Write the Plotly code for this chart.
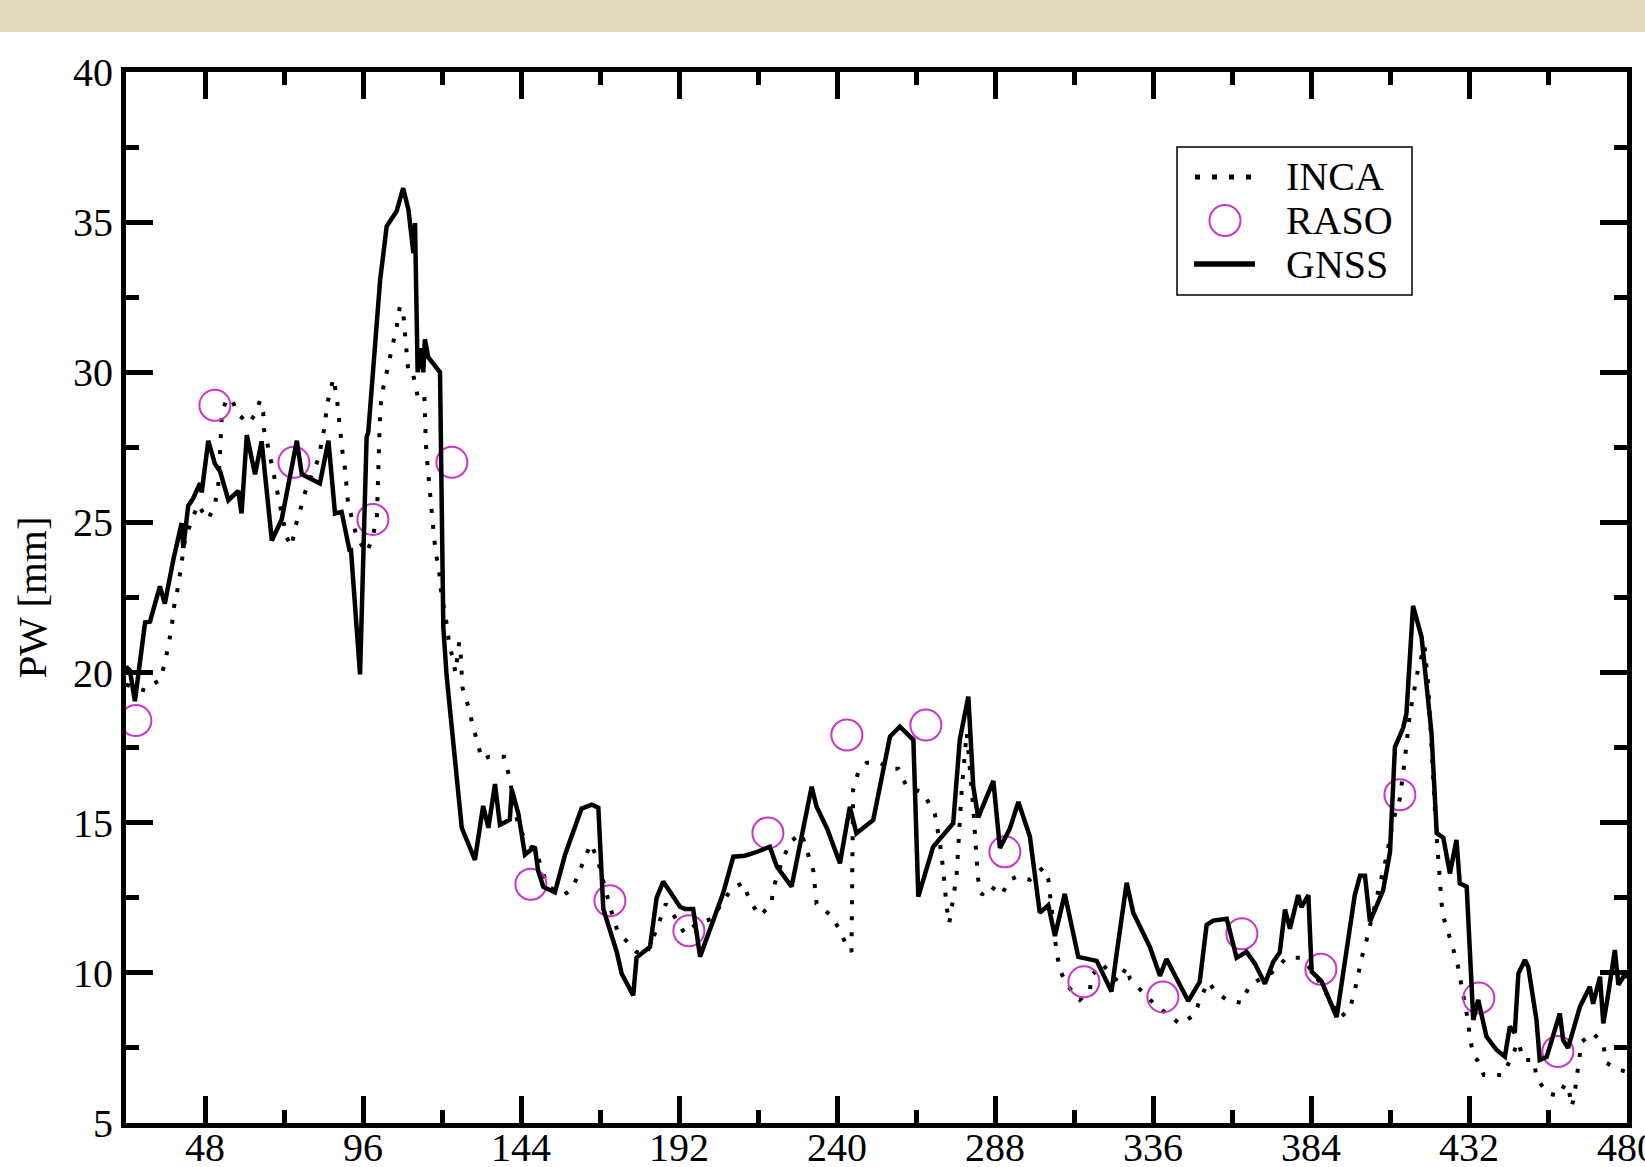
import plotly.graph_objects as go

# ---------------- data ----------------
inca_x = [24, 26.5, 29.8, 32, 34.3, 35.8, 36.9, 37.9, 38.4, 39.4, 40.4, 41.0, 41.9, 44.0, 46.0, 47.5, 49.0,
          51.0, 52.0, 52.6, 52.8, 53.1, 54.5, 56.1, 58.1, 60.0, 61.2, 63.2, 64.7, 65.7, 65.9, 67.2, 68.3,
          69.3, 70.3, 72.8, 74.3, 75.3, 76.9, 78.4, 80.5, 82.4, 83.5, 84.5, 85.0, 87.0, 88.0, 88.5, 89.0,
          89.7, 90.5, 91.0, 91.5, 93.0, 94.1, 97.1, 98.6, 100.2, 100.4, 100.7, 100.9, 101.0, 101.2, 101.6,
          102.7, 103.7, 105.2, 106.2, 107.2, 108.2, 108.7, 109.3, 109.8, 111.1, 112.6, 114.6, 114.8, 115.1,
          115.6, 116.1, 116.6, 117.1, 117.6, 118.1, 119.1, 119.6, 121.6, 122.1, 123.2, 124.1, 125.2, 125.7,
          126.2, 128.2, 129.2, 130.7, 132.2, 134.3, 136.3, 138.8, 140.3, 141.5, 143.0, 144.5, 146.4, 149.0,
          152.0, 155.0, 157.1, 159.6, 162.2, 165.2, 167.2, 170.3, 171.3, 173.3, 176.4, 179.0, 182.0, 185.0,
          188.0, 190.5, 193.8, 197.0, 201.9, 205.0, 208.0, 211.5, 213.5, 216.6, 220.1, 220.6, 223.5, 226.2,
          229.2, 232.8, 233.8, 236.0, 238.4, 240.9, 242.9, 244.4, 244.5, 244.6, 244.9, 246.5, 249.0, 253.0,
          256.1, 258.6, 261.2, 266.2, 269.7, 271.3, 272.3, 273.3, 274.1, 276.3, 277.9, 279.4, 281.4, 282.4,
          282.9, 284.0, 286.5, 290.0, 292.5, 294.6, 298.6, 302.6, 304.2, 306.7, 307.7, 309.8, 313.8, 316.8,
          317.3, 320.5, 325.4, 328.0, 329.0, 332.5, 336.1, 340.6, 344.2, 348.7, 350.2, 352.8, 354.8, 358.4,
          362.9, 365.4, 369.0, 372.0, 376.6, 381.1, 384.0, 387.2, 392.8, 395.8, 397.3, 399.4, 400.9, 404.0,
          407.0, 409.0, 411.0, 412.5, 414.0, 416.5, 418.5, 419.6, 420.6, 421.6, 422.4, 422.9, 423.6, 424.1,
          426.2, 427.2, 428.7, 429.7, 430.7, 431.7, 432.3, 433.5, 434.5, 436.5, 438.8, 442.4, 447.0, 448.5,
          451.6, 452.6, 455.6, 459.2, 461.2, 462.2, 463.2, 464.0, 464.7, 465.7, 466.2, 469.7, 472.8, 473.8,
          476.9, 480.0]
inca_y = [19.6, 19.5, 19.4, 19.6, 19.75, 20.3, 20.9, 21.5, 22.1, 22.6, 23.3, 23.8, 24.4, 25.1, 25.6, 25.3, 25.1,
          25.6, 26.2, 27.4, 28.0, 28.6, 29.1, 29.1, 28.6, 28.4, 28.3, 28.6, 29.05, 28.65, 28.1, 27.5, 26.9,
          26.3, 25.7, 24.5, 24.2, 24.8, 25.4, 26.0, 26.6, 27.1, 27.7, 28.3, 28.9, 29.8, 29.2, 28.6, 28.0,
          27.4, 26.8, 26.2, 25.6, 25.0, 24.5, 24.0, 24.4, 25.1, 26.2, 26.8, 27.4, 28.0, 28.6, 29.2,
          29.75, 30.3, 31.0, 31.5, 32.2, 32.0, 31.2, 30.6, 30.0, 30.0, 29.2, 29.3, 28.7, 27.6,
          26.9, 26.4, 25.8, 25.1, 24.5, 24.0, 23.4, 22.8, 21.5, 21.0, 20.5, 20.0, 21.0, 20.6,
          19.5, 18.8, 18.3, 17.7, 17.1, 17.2, 17.2, 17.2, 16.6, 15.8, 15.0, 14.6, 14.3, 13.9,
          12.9, 12.7, 12.6, 12.8, 13.5, 14.3, 13.8, 12.5, 12.1, 11.4, 11.0, 10.7, 10.6, 11.4,
          12.3, 11.9, 11.3, 11.6, 11.8, 12.3, 12.8, 13.0, 12.4, 11.9, 12.3, 12.8, 13.8, 14.4,
          14.65, 13.4, 12.3, 12.1, 11.9, 11.4, 10.9, 10.7, 12.4, 13.8, 16.1, 16.7, 17.0, 17.0,
          16.8, 16.8, 16.2, 16.0, 15.3, 14.3, 13.4, 12.2, 11.65, 13.2, 16.1, 18.0, 15.5, 13.8,
          13.1, 12.6, 12.9, 12.6, 13.1, 13.2, 13.1, 13.5, 13.1, 10.7, 10.1, 9.6, 9.1, 9.4,
          9.9, 10.3, 9.7, 10.2, 9.8, 9.4, 9.0, 8.6, 8.3, 8.6, 9.1, 9.7, 9.4, 9.1,
          9.0, 9.6, 9.8, 10.0, 10.5, 10.5, 10.1, 9.6, 8.5, 8.8, 9.4, 10.5, 11.1, 12.5,
          13.9, 15.1, 15.8, 17.1, 18.6, 20.1, 20.9, 19.6, 17.2, 15.5, 14.2, 13.3, 12.4, 11.9,
          11.2, 10.8, 10.2, 9.6, 9.0, 8.4, 7.8, 7.2, 7.1, 6.6, 6.6, 6.6, 7.7, 7.1,
          7.1, 6.5, 6.0, 5.9, 6.3, 6.2, 5.55, 5.9, 6.5, 7.2, 7.7, 8.0, 7.6, 7.0,
          6.8, 6.7]

raso_x = [27, 51, 75, 99, 123, 147, 171, 195, 219, 243, 267, 291, 315, 339, 363, 387, 411, 435, 459]
raso_y = [18.4, 28.9, 27.0, 25.1, 27.0, 12.95, 12.4, 11.4, 14.66, 17.92, 18.25, 14.03, 9.7, 9.2, 11.3,
          10.12, 15.93, 9.16, 7.38]

gnss_x = [24, 25.2, 26.7, 29.8, 31.3, 34.3, 35.8, 38.4, 40.9, 41.4, 42.9, 44.4, 46.5, 47.0, 49.0, 51.0, 52.6,
          55.1, 58.1, 59.1, 60.7, 63.2, 65.2, 68.3, 71.3, 75.9, 77.4, 82.9, 85.5, 87.5, 89.5, 92.0, 92.3,
          95.1, 97.1, 97.6, 101.2, 103.2, 106.2, 108.2, 109.8, 111.3, 111.8, 112.6, 113.3, 114.3, 114.8,
          115.8, 117.3, 119.4, 120.4, 121.4, 126.0, 130.0, 132.5, 134.1, 136.1, 137.6, 140.6, 141.2, 143.2,
          145.2, 148.2, 149.2, 150.8, 154.3, 157.4, 160.4, 162.4, 165.5, 167.5, 169.0, 173.1, 174.6, 178.1,
          179.1, 183.2, 185.2, 187.2, 192.3, 193.8, 196.3, 198.4, 205.4, 208.5, 212.0, 215.0, 219.6, 221.7,
          226.2, 229.7, 232.3, 233.8, 237.0, 240.9, 243.9, 245.9, 251.0, 256.1, 259.1, 263.2, 264.7, 269.2,
          275.3, 277.3, 279.9, 281.4, 282.9, 287.5, 289.5, 292.5, 295.1, 298.6, 301.6, 304.2, 306.2, 309.2,
          313.3, 318.9, 323.4, 324.9, 328.0, 330.0, 335.1, 338.1, 340.1, 346.7, 350.2, 352.3, 354.3, 358.4,
          361.4, 364.4, 367.0, 370.0, 372.5, 374.5, 376.1, 377.6, 380.1, 381.1, 383.2, 384.2, 387.2, 391.8,
          395.8, 397.3, 398.9, 400.4, 401.9, 405.9, 408.0, 409.5, 412.0, 413.0, 415.0, 417.6, 420.6, 422.2,
          424.2, 426.2, 428.2, 429.2, 431.3, 432.8, 433.3, 434.8, 437.3, 440.4, 442.9, 444.4, 445.9, 447.0,
          449.0, 450.0, 452.5, 453.5, 455.6, 459.6, 460.6, 462.1, 465.7, 468.7, 469.7, 471.8, 472.8, 474.3,
          476.3, 477.4, 478.9, 480.0]
gnss_y = [20.2, 20.07, 19.05, 21.67, 21.7, 22.87, 22.3, 23.77, 24.98, 24.15, 25.55, 25.8, 26.31, 26.0, 27.72, 26.95, 26.7,
          25.74, 26.05, 25.3, 27.91, 26.6, 27.7, 24.4, 25.1, 27.72, 26.6, 26.3, 27.72, 25.3, 25.35, 24.02, 24.15,
          19.94, 27.85, 28.0, 33.07, 34.86, 35.36, 36.13, 35.42, 33.97, 34.97, 30.0, 30.8, 30.0, 31.1,
          30.5, 30.3, 30.0, 21.5, 19.9, 14.83, 13.76, 15.56, 14.83, 16.29, 14.93, 15.1, 16.1, 15.3,
          13.94, 14.2, 13.4, 12.86, 12.68, 13.94, 14.83, 15.47, 15.6, 15.5, 12.13, 10.69, 9.97, 9.25,
          10.51, 10.87, 12.5, 13.04, 12.2, 12.13, 12.13, 10.54, 12.65, 13.87, 13.9, 14.0, 14.2, 13.54,
          12.87, 14.76, 16.2, 15.53, 14.8, 13.65, 15.53, 14.65, 15.09, 17.87, 18.2, 17.76, 12.54, 14.2,
          14.98, 17.76, 19.2, 16.2, 15.18, 16.39, 14.16, 14.8, 15.69, 14.54, 12.0, 12.25, 11.23, 12.63,
          10.53, 10.4, 9.38, 10.6, 13.0, 12.0, 10.85, 9.9, 10.46, 9.06, 9.7, 11.6, 11.74, 11.8,
          10.5, 10.7, 10.3, 9.64, 10.36, 10.68, 12.11, 11.47, 12.59, 12.19, 12.59, 10.04, 9.72, 8.53,
          11.63, 12.59, 13.23, 13.23, 11.71, 12.75, 14.02, 17.52, 18.16, 18.64, 22.22, 21.18, 18.0, 14.65,
          14.5, 13.31, 14.43, 12.98, 12.87, 9.43, 8.43, 9.1, 7.88, 7.43, 7.21, 8.21, 8.0, 9.98,
          10.43, 10.2, 8.43, 7.1, 7.2, 8.65, 7.76, 7.5, 8.87, 9.54, 8.97, 9.87, 8.32, 9.3,
          10.76, 9.6, 9.87, 9.9]

x_ticks = [48, 96, 144, 192, 240, 288, 336, 384, 432, 480]
y_ticks = [5, 10, 15, 20, 25, 30, 35, 40]
legend_names = ["INCA", "RASO", "GNSS"]

FONT = "Liberation Serif"
W, H = 1645, 1167
ML, MR, MT, MB = 126, 18, 72, 44
PW_, PH_ = W - ML - MR, H - MT - MB


def px(X):
    return (X - ML) / PW_


def py(Y):
    return (H - MB - Y) / PH_


INCA_DASH = "4px,12px"
MAG = "#cc33cc"

fig = go.Figure()
fig.add_trace(go.Scatter(x=inca_x, y=inca_y, mode="lines", name=legend_names[0], showlegend=False,
                         line=dict(color="black", width=4, dash=INCA_DASH)))
fig.add_trace(go.Scatter(x=raso_x, y=raso_y, mode="markers", name=legend_names[1], showlegend=False,
                         marker=dict(symbol="circle-open", size=31, color=MAG,
                                     line=dict(width=2, color=MAG))))
fig.add_trace(go.Scatter(x=gnss_x, y=gnss_y, mode="lines", name=legend_names[2], showlegend=False,
                         line=dict(color="black", width=4.5)))

axis_common = dict(showline=True, linecolor="black", linewidth=5, mirror="allticks",
                   ticks="inside", ticklen=27, tickwidth=5, tickcolor="black",
                   showgrid=False, zeroline=False, automargin=False,
                   ticklabeloverflow="allow",
                   tickfont=dict(family=FONT, size=40, color="black"))

fig.update_xaxes(range=[24, 480], tickmode="array", tickvals=x_ticks,
                 ticktext=[str(v) for v in x_ticks], ticklabelstandoff=-15,
                 minor=dict(ticks="inside", dtick=24, tick0=0, ticklen=13, tickwidth=5,
                            tickcolor="black", showgrid=False),
                 **axis_common)
fig.update_yaxes(range=[5, 40], tickmode="array", tickvals=y_ticks,
                 ticktext=[str(v) for v in y_ticks],
                 minor=dict(ticks="inside", dtick=2.5, tick0=0, ticklen=13, tickwidth=5,
                            tickcolor="black", showgrid=False),
                 title=dict(text="PW [mm]", font=dict(family=FONT, size=41, color="black"), standoff=15),
                 **axis_common)

# legend drawn as a box with sample marks and text
rows_y = [177, 220.5, 264]
shapes = [
    dict(type="rect", xref="paper", yref="paper", x0=-0.1, x1=1.1, y0=py(32), y1=py(-20),
         fillcolor="#e2dbbe", line=dict(width=0), layer="below"),
    dict(type="rect", xref="paper", yref="paper", x0=px(1177), x1=px(1412), y0=py(295), y1=py(147),
         fillcolor="white", line=dict(color="black", width=1.5), layer="above"),
    dict(type="line", xref="paper", yref="paper", x0=px(1195), x1=px(1256), y0=py(rows_y[0]), y1=py(rows_y[0]),
         line=dict(color="black", width=5, dash="5px,12px")),
    dict(type="circle", xref="paper", yref="paper", x0=px(1225 - 15.5), x1=px(1225 + 15.5),
         y0=py(rows_y[1] + 15.5), y1=py(rows_y[1] - 15.5), line=dict(color=MAG, width=2)),
    dict(type="line", xref="paper", yref="paper", x0=px(1194), x1=px(1255), y0=py(rows_y[2]), y1=py(rows_y[2]),
         line=dict(color="black", width=5.5)),
]
annotations = [
    dict(xref="paper", yref="paper", x=px(1284), y=py(yy), text=t, showarrow=False,
         xanchor="left", yanchor="middle", font=dict(family=FONT, size=40, color="black"))
    for t, yy in zip(legend_names, rows_y)
]

fig.update_layout(
    width=W, height=H,
    margin=dict(l=ML, r=MR, t=MT, b=MB),
    paper_bgcolor="white", plot_bgcolor="white",
    font=dict(family=FONT, color="black"),
    showlegend=False,
    shapes=shapes,
    annotations=annotations,
)

fig.write_html("out.html", config={"displayModeBar": False},
               post_script="document.body.style.margin='0px';document.body.style.overflow='hidden';")
